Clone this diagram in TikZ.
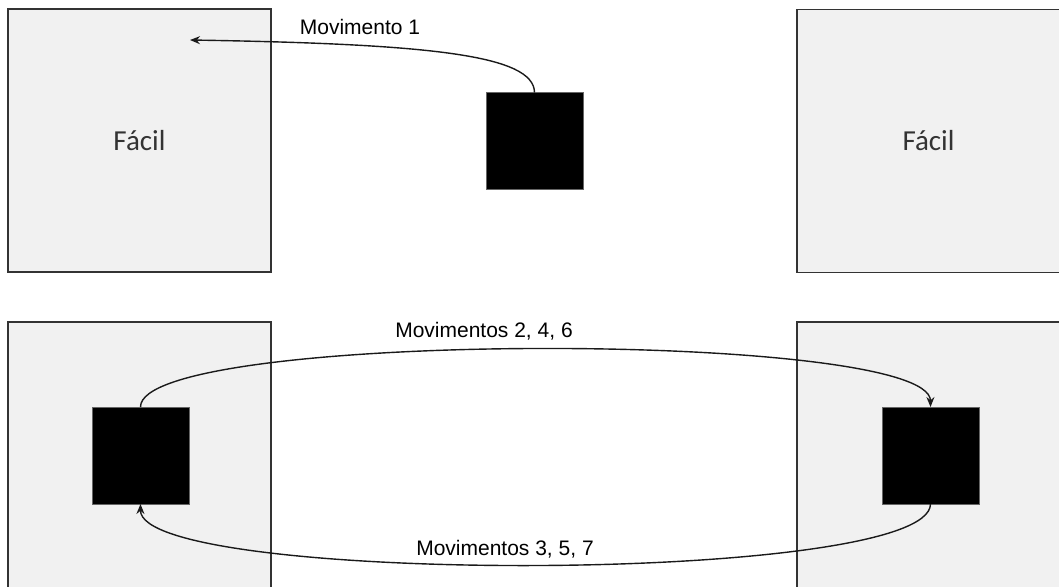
\documentclass[tikz,border=0pt]{standalone}
\usepackage{fontspec}
\setmainfont{Liberation Sans}
\newfontfamily\boxfont{Carlito}
\usetikzlibrary{arrows.meta}
\definecolor{panelfill}{HTML}{F1F1F1}
\definecolor{panelline}{HTML}{333333}
\definecolor{edgecol}{HTML}{1A1A1A}
\tikzset{
  panel/.style={draw=panelline, fill=panelfill, line width=1.5pt, inner sep=0pt, outer sep=0pt,
    font=\boxfont\fontsize{29}{34}\selectfont, text=panelline},
  token/.style={draw=black!60, fill=black, line width=0.6pt, inner sep=0pt, outer sep=0pt,
    minimum width=97pt, minimum height=97pt},
  move/.style={draw=edgecol, line width=1.4pt, -{Stealth[length=10pt,width=8pt]}},
  movelabel/.style={font=\fontsize{21}{25}\selectfont, text=black, inner sep=1pt}
}
\begin{document}
\begin{tikzpicture}[x=1pt, y=-1pt]
  \useasboundingbox (0,0) rectangle (1059,586);
  % top row: two empty panels and the piece between them
  \node[panel, minimum width=263pt, minimum height=263pt] (tl) at (139.5,140.5) {Fácil};
  \node[panel, minimum width=263pt, minimum height=263pt] (tr) at (928.5,141) {Fácil};
  \node[token] (p0) at (534.5,141) {};
  % bottom row: panels holding the pieces
  \node[panel, minimum width=263pt, minimum height=266pt] (bl) at (139.5,455) {};
  \node[panel, minimum width=263pt, minimum height=266pt] (br) at (928.5,455) {};
  \node[token] (pl) at (140.5,455.5) {};
  \node[token] (pr) at (930.5,455.5) {};
  \coordinate (m1end) at (190,40);
  % moves
  \draw[move] (p0.north) .. controls (534,55) and (430,44) .. (m1end);
  \draw[move] (pl.north) .. controls (140,330) and (930,330) .. (pr.north);
  \draw[move] (pr.south) .. controls (930,585) and (140,585) .. (pl.south);
  % labels
  \node[movelabel] (l1) at (360,27) {Movimento 1};
  \node[movelabel] (l2) at (484,331) {Movimentos 2, 4, 6};
  \node[movelabel] (l3) at (505,549) {Movimentos 3, 5, 7};
\end{tikzpicture}
\end{document}
